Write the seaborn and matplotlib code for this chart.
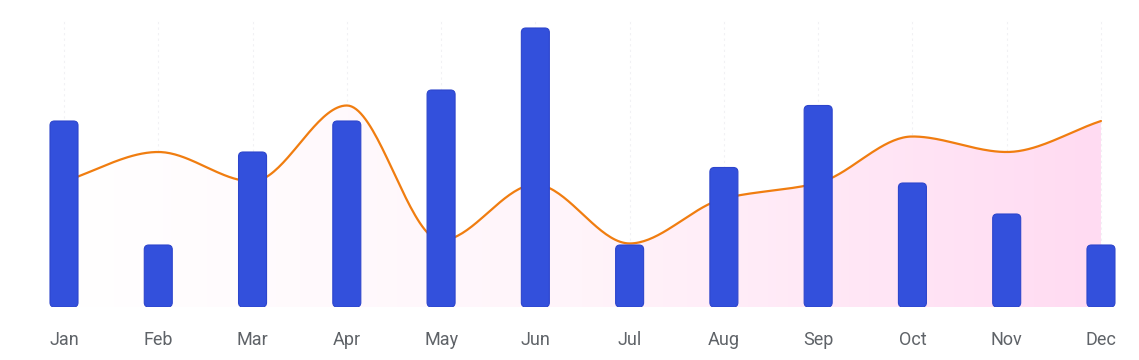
import numpy as np
import pandas as pd
import seaborn as sns
from matplotlib import pyplot as plt
from matplotlib.patches import FancyBboxPatch

months = ["Jan", "Feb", "Mar", "Apr", "May", "Jun", "Jul", "Aug", "Sep", "Oct", "Nov", "Dec"]
bar_values = [12, 4, 10, 12, 14, 18, 4, 9, 13, 8, 6, 4]
line_values = [8.1, 10, 8.1, 13, 4.3, 7.9, 4.1, 7, 8, 11, 10, 12]

BAR_COLOR = "#3350dc"
LINE_COLOR = "#f07d10"


def monotone_curve(y, steps=40):
    # Fritsch-Carlson monotone cubic, used only to draw the smooth line
    y = np.asarray(y, dtype=float)
    n = len(y)
    d = np.diff(y)
    m = np.zeros(n)
    m[0], m[-1] = d[0], d[-1]
    for i in range(1, n - 1):
        if d[i - 1] * d[i] > 0:
            m[i] = 2 / (1 / d[i - 1] + 1 / d[i])
    xs, ys = [], []
    for i in range(n - 1):
        t = np.linspace(0, 1, steps, endpoint=(i == n - 2))
        h00 = 2 * t**3 - 3 * t**2 + 1
        h10 = t**3 - 2 * t**2 + t
        h01 = -2 * t**3 + 3 * t**2
        h11 = t**3 - t**2
        xs.append(i + t)
        ys.append(h00 * y[i] + h10 * m[i] + h01 * y[i + 1] + h11 * m[i + 1])
    return np.concatenate(xs), np.concatenate(ys)


if __name__ == "__main__":
    sns.set_theme(style="white")
    plt.rcParams["font.family"] = ["Roboto", "DejaVu Sans"]

    df = pd.DataFrame({"month": months, "bars": bar_values, "line": line_values})

    fig = plt.figure(figsize=(11.39, 3.6), dpi=100)
    ax = fig.add_axes([0, 53 / 360, 1, 307 / 360])

    sns.barplot(data=df, x="month", y="bars", color=BAR_COLOR, width=0.297,
                saturation=1, ax=ax, zorder=4)

    px_x = 94.27
    px_y = 15.5
    ax.set_xlim(-64 / px_x, (1139 - 64) / px_x)
    ax.set_ylim(0, 307 / px_y)

    # swap plain rectangles for rounded ones
    for p in list(ax.patches):
        x0, y0 = p.get_x(), p.get_y()
        w, h = p.get_width(), p.get_height()
        rb = FancyBboxPatch((x0, y0), w, h,
                            boxstyle="round,pad=0,rounding_size=%f" % (4.5 / px_x),
                            mutation_aspect=px_x / px_y,
                            facecolor=BAR_COLOR, edgecolor="#2d45cc", lw=0.8, zorder=4)
        p.remove()
        ax.add_patch(rb)

    # smooth line + gradient fill under it
    cx, cy = monotone_curve(df["line"])
    ax.plot(cx, cy, color=LINE_COLOR, lw=1.6, zorder=3, solid_capstyle="round")
    poly = ax.fill_between(cx, 0, cy, color="none", lw=0)
    grad = np.linspace(0, 1, 256).reshape(1, -1)
    cmap = sns.blend_palette(["#ffffff", "#fff4fa", "#ffdbf2"], as_cmap=True)
    img = ax.imshow(grad, extent=[0, 11, 0, cy.max()], aspect="auto",
                    cmap=cmap, origin="lower", zorder=1, interpolation="bilinear")
    img.set_clip_path(poly.get_paths()[0], transform=ax.transData)

    # very faint dotted vertical grid
    for i in range(len(months)):
        ax.plot([i, i], [0, 18.5], color="#f1f1f4", lw=0.8, ls=(0, (2, 3)), zorder=0.5)

    ax.set_xlabel("")
    ax.set_ylabel("")
    ax.set_yticks([])
    ax.tick_params(axis="x", length=0, pad=17, labelsize=13, labelcolor="#5f6368")
    for s in ax.spines.values():
        s.set_visible(False)
    ax.set_facecolor("white")

    fig.savefig("out.png", dpi=100, facecolor="white")
